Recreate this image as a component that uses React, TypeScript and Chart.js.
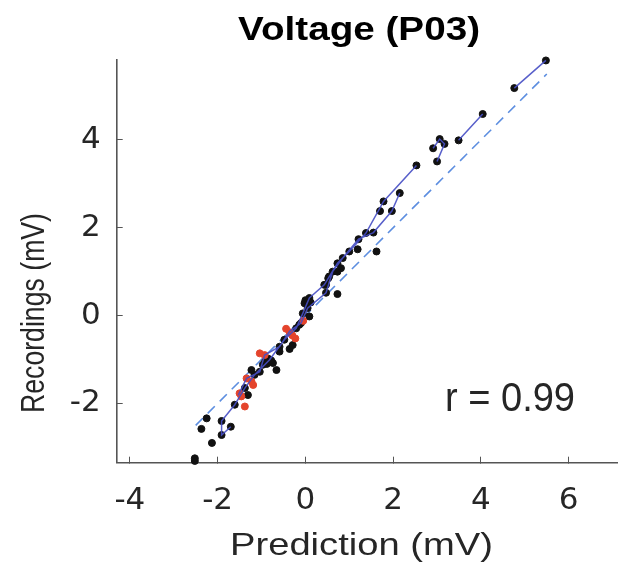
import React, { useEffect, useRef } from "react";
import { Chart, registerables } from "chart.js";

Chart.register(...registerables);

// ---- data ----
const xTicks = [-4, -2, 0, 2, 4, 6];
const yTicks = [-2, 0, 2, 4];
const xMin = -4.3;
const xMax = 7.1;
const yMin = -3.35;
const yMax = 5.82;

const blackX = [5.48, 4.76, 4.04, 3.49, 3.06, 3.17, 2.91, 3.0, 2.53, 2.15, 1.78, 1.7, 1.97, 1.55, 1.38, 1.21, 1.19, 1.62, 1.0, 0.85, 0.73, 0.81, 0.62, 0.73, 0.54, 0.52, 0.47, 0.43, 0.47, 0.73, 0.09, 0.0, 0.12, -0.02, 0.05, -0.06, 0.09, -0.1, -0.21, -0.14, -0.48, -0.59, -0.36, -0.29, -0.59, -0.82, -0.74, -0.85, -0.88, -0.78, -0.92, -0.97, -0.66, -1.16, -1.23, -1.04, -1.38, -1.31, -1.61, -2.25, -2.37, -1.91, -1.91, -1.7, -2.13, -2.52, -2.52];
const blackY = [5.81, 5.18, 4.59, 3.99, 4.02, 3.91, 3.81, 3.51, 3.42, 2.79, 2.6, 2.38, 2.38, 1.89, 1.88, 1.74, 1.51, 1.46, 1.46, 1.31, 1.19, 1.08, 1.0, 1.0, 0.89, 0.85, 0.7, 0.7, 0.52, 0.49, 0.4, 0.35, 0.3, 0.28, 0.17, 0.05, -0.02, -0.17, -0.29, -0.21, -0.55, -0.71, -0.76, -0.67, -0.82, -1.01, -1.08, -0.98, -1.1, -1.02, -1.05, -1.12, -1.24, -1.35, -1.24, -1.28, -1.65, -1.81, -2.03, -2.34, -2.58, -2.4, -2.72, -2.53, -2.9, -3.31, -3.25];

const redX = [-0.44, -0.36, -0.23, -0.3, -0.05, -0.93, -1.04, -1.34, -1.19, -1.23, -1.5, -1.46, -1.38];
const redY = [-0.3, -0.38, -0.52, -0.45, -0.12, -0.9, -0.86, -1.43, -1.58, -1.5, -1.77, -1.84, -2.07];

// trajectory segments (NaN = break)
const traceX = [4.76, 5.48, NaN, 3.49, 4.04, NaN, 2.91, 3.06, 3.17, 3.0, NaN,
  2.53, 1.78, 1.38, 1.0, 0.73, 0.43, 0.09, -0.06, -0.21, -0.48, -0.82, -1.16, -1.38, -1.61, -1.91, -1.91, -1.7, NaN,
  2.15, 1.97, 1.55, 1.21, 0.85, 0.62, 0.47, 0.05, -0.1, -0.36, -0.59, -0.93, -1.04, -1.34, -1.53];
const traceY = [5.18, 5.81, NaN, 3.99, 4.59, NaN, 3.81, 4.02, 3.91, 3.51, NaN,
  3.42, 2.6, 1.88, 1.46, 1.19, 0.7, 0.4, 0.05, -0.29, -0.55, -1.01, -1.35, -1.65, -2.03, -2.4, -2.72, -2.53, NaN,
  2.79, 2.38, 1.89, 1.74, 1.31, 1.0, 0.52, 0.17, -0.17, -0.36, -0.71, -0.9, -1.28, -1.43, -1.81];

const identityX = [-2.5, 5.5];
const identityY = [-2.5, 5.5];

const titleText = "Voltage (P03)";
const xTitleText = "Prediction (mV)";
const yTitleText = "Recordings (mV)";
const rText = "r = 0.99";

const zip = (xs: number[], ys: number[]) => xs.map((x, i) => ({ x, y: ys[i] }));

function fitText(ctx: CanvasRenderingContext2D, text: string, font: string, x: number, y: number, width: number, align: "center" | "left", rotate: boolean, color: string) {
  ctx.save();
  ctx.font = font;
  ctx.fillStyle = color;
  ctx.textBaseline = "alphabetic";
  ctx.textAlign = align;
  const w = ctx.measureText(text).width;
  const s = width / w;
  ctx.translate(x, y);
  if (rotate) {
    ctx.scale(1, s);
    ctx.rotate(-Math.PI / 2);
  } else {
    ctx.scale(s, 1);
  }
  ctx.fillText(text, 0, 0);
  ctx.restore();
}

const textPlugin = {
  id: "texts",
  afterDraw(chart: any) {
    const ctx = chart.ctx as CanvasRenderingContext2D;
    fitText(ctx, titleText, "bold 33px 'Liberation Sans', Arial, sans-serif", 359, 39.5, 242, "center", false, "#000");
    fitText(ctx, xTitleText, "32px 'Liberation Sans', Arial, sans-serif", 361.5, 555, 263, "center", false, "#262626");
    fitText(ctx, yTitleText, "33px 'Liberation Sans', Arial, sans-serif", 43.5, 313, 200, "center", true, "#262626");
    fitText(ctx, rText, "41px 'Liberation Sans', Arial, sans-serif", 445, 410.5, 130, "left", false, "#262626");
  },
};

export default function App() {
  const ref = useRef<HTMLCanvasElement>(null);
  useEffect(() => {
    if (!ref.current) return;
    const axisColor = "#555555";
    const tickFont = { family: "'DejaVu Sans', sans-serif", size: 31 };
    const chart = new Chart(ref.current, {
      type: "scatter",
      data: {
        datasets: [
          {
            label: "trace",
            data: zip(traceX, traceY),
            showLine: true,
            spanGaps: false,
            clip: false,
            borderColor: "rgba(70,78,196,0.9)",
            borderWidth: 1.5,
            pointRadius: 0,
          } as any,
          {
            label: "red",
            data: zip(redX, redY),
            clip: false,
            pointRadius: 3.5,
            pointBackgroundColor: "#e4442c",
            pointBorderColor: "#e4442c",
            pointBorderWidth: 1,
          },
          {
            label: "black",
            data: zip(blackX, blackY),
            clip: false,
            pointRadius: 3.5,
            pointBackgroundColor: "#111111",
            pointBorderColor: "#111111",
            pointBorderWidth: 1,
          },
          {
            label: "identity",
            data: zip(identityX, identityY),
            showLine: true,
            clip: false,
            borderColor: "#5d8ee0",
            borderWidth: 1.6,
            borderDash: [10, 7],
            pointRadius: 0,
          } as any,
        ],
      },
      options: {
        animation: false,
        responsive: true,
        maintainAspectRatio: false,
        layout: { padding: { top: 60, right: 2, left: 0, bottom: 0 } },
        plugins: { legend: { display: false }, tooltip: { enabled: false }, title: { display: false } },
        scales: {
          x: {
            type: "linear",
            min: xMin,
            max: xMax,
            afterBuildTicks: (s: any) => { s.ticks = xTicks.map((v) => ({ value: v })); },
            afterFit: (s: any) => { s.height = 104.3; },
            ticks: { font: tickFont, color: "#262626", padding: 26, maxRotation: 0, autoSkip: false, callback: (v: any) => String(v) },
            grid: { drawOnChartArea: false, drawTicks: true, tickLength: -6, color: axisColor, lineWidth: 1 },
            border: { display: true, color: axisColor, width: 1.6 },
          },
          y: {
            type: "linear",
            min: yMin,
            max: yMax,
            afterBuildTicks: (s: any) => { s.ticks = yTicks.map((v) => ({ value: v })); },
            afterFit: (s: any) => { s.width = 116.7; },
            ticks: { font: tickFont, color: "#262626", padding: 22, autoSkip: false, callback: (v: any) => String(v) },
            grid: { drawOnChartArea: false, drawTicks: true, tickLength: -6, color: axisColor, lineWidth: 1 },
            border: { display: true, color: axisColor, width: 1.6 },
          },
        },
      },
      plugins: [textPlugin],
    } as any);
    return () => chart.destroy();
  }, []);
  return (
    <div style={{ position: "fixed", left: 0, top: 0, width: 622, height: 567, background: "#fff" }}>
      <canvas ref={ref} />
    </div>
  );
}
